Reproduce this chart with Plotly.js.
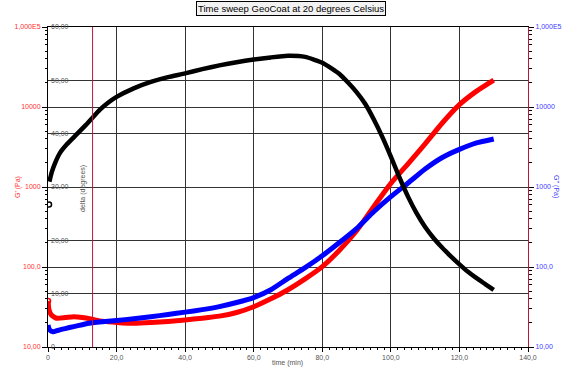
<!DOCTYPE html>
<html>
<head>
<meta charset="utf-8">
<script src="https://cdn.plot.ly/plotly-3.0.1.min.js"></script>
<style>html,body{margin:0;padding:0;background:#fff;}#chart{width:576px;height:374px;}</style>
</head>
<body>
<div id="chart"></div>
<script>
// ---- data ----
const chartTitle = "Time sweep GeoCoat at 20 degrees Celsius";

// G' (Pa) storage modulus, red, left log axis
const gpTime = [0, 0.3, 1, 2.5, 5, 7.5, 10, 12.5, 15, 17.5, 20, 25, 30, 35, 40, 45, 50, 55, 60, 65, 70, 75, 80, 85, 90, 95, 100, 105, 110, 115, 120, 125, 130];
const gpVals = [37.6, 29, 25.1, 22.9, 23.3, 23.9, 23.4, 22.4, 21.2, 20.7, 20.3, 19.8, 20.2, 20.9, 21.8, 22.9, 24.3, 27.0, 31.9, 40.0, 52, 71, 101, 162, 284, 568, 1110, 1950, 3470, 6310, 10700, 15800, 21700];

// G'' (Pa) loss modulus, blue, right log axis
const gppTime = [0, 0.5, 1.5, 3, 5, 7.5, 10, 12.5, 15, 20, 25, 30, 35, 40, 45, 50, 55, 60, 65, 70, 75, 80, 85, 90, 95, 100, 105, 110, 115, 120, 125, 130];
const gppVals = [18.8, 16.3, 15.5, 16.2, 17.0, 18.0, 19.0, 19.9, 20.5, 21.4, 22.6, 23.9, 25.5, 27.3, 29.3, 32.0, 36.0, 41.5, 52, 72, 98, 138, 202, 302, 490, 757, 1120, 1680, 2340, 2950, 3550, 3980];

// delta (degrees), black, linear axis
const deltaTime = [0.4, 1.1, 2, 3.5, 5.5, 8.4, 11, 13, 15, 17.5, 20, 25, 30, 35, 40, 45, 50, 55, 60, 65, 70, 75, 80, 85, 87.5, 90, 92.5, 95, 97.5, 100, 102.5, 105, 107.5, 110, 112.5, 115, 117.5, 120, 122.5, 125, 127.5, 130];
const deltaVals = [31.0, 32.8, 34.4, 36.4, 38.0, 39.9, 41.6, 43.0, 44.4, 45.8, 46.9, 48.5, 49.7, 50.6, 51.3, 52.1, 52.8, 53.4, 53.9, 54.3, 54.6, 54.4, 53.3, 51.2, 49.6, 47.8, 45.6, 42.7, 39.4, 35.7, 31.8, 28.2, 25.1, 22.5, 20.4, 18.6, 17.0, 15.5, 14.1, 12.9, 11.8, 10.7];
const deltaStrayTime = [0.3];
const deltaStrayVals = [26.7];

// vertical marker line (time, min)
const markerTime = 13;

// tick labels
const xTickVals = [0, 20, 40, 60, 80, 100, 120, 140];
const xTickText = ["0", "20,0", "40,0", "60,0", "80,0", "100,0", "120,0", "140,0"];
const logTickVals = [10, 100, 1000, 10000, 100000];
const logTickText = ["10,00", "100,0", "1000", "10000", "1,000E5"];
const deltaTickVals = [0, 10, 20, 30, 40, 50, 60];
const deltaTickText = ["0", "10,00", "20,00", "30,00", "40,00", "50,00", "60,00"];

// ---- styling ----
const FONT = "Liberation Sans, Arial, sans-serif";
const RED = "#ff0000", BLUE = "#0000ff", BLACK = "#000000";
const GRID = "#333333", LABEL_GRAY = "#555555", CRIMSON = "#c0143c";

const logMinor = [];
for (let d = 10; d < 100000; d *= 10) for (let k = 2; k <= 9; k++) logMinor.push(d * k);

function seriesTrace(x, y, color, axis, w) {
  return {
    x: x, y: y, yaxis: axis, type: "scatter", mode: "lines",
    line: {color: color, width: w, shape: "spline", smoothing: 0.5},
    hoverinfo: "skip", showlegend: false
  };
}

const traces = [
  seriesTrace(gpTime, gpVals, RED, "y", 5),
  seriesTrace(gppTime, gppVals, BLUE, "y2", 5),
  seriesTrace(deltaTime, deltaVals, BLACK, "y3", 4.5),
  {x: [gpTime[0]], y: [gpVals[0]], yaxis: "y", type: "scatter", mode: "markers",
   marker: {symbol: "circle-open", size: 5, color: RED, line: {width: 1.5, color: RED}},
   hoverinfo: "skip", showlegend: false},
  {x: deltaStrayTime, y: deltaStrayVals, yaxis: "y3", type: "scatter", mode: "markers",
   marker: {symbol: "circle-open", size: 5, color: BLACK, line: {width: 1.5, color: BLACK}},
   hoverinfo: "skip", showlegend: false}
];

const tickFont = (c) => ({family: FONT, size: 7, color: c});

const layout = {
  width: 576, height: 374,
  margin: {l: 48, r: 48, t: 27, b: 27, pad: 0},
  paper_bgcolor: "#ffffff", plot_bgcolor: "#ffffff",
  showlegend: false,
  font: {family: FONT, size: 7, color: LABEL_GRAY},
  xaxis: {
    range: [0, 140], tickmode: "array", tickvals: xTickVals, ticktext: xTickText,
    showgrid: true, gridcolor: GRID, gridwidth: 1, zeroline: false,
    showline: true, linecolor: BLACK, linewidth: 1, mirror: true,
    ticks: "outside", ticklen: 4, tickcolor: BLACK, tickwidth: 1,
    minor: {tickmode: "linear", tick0: 0, dtick: 2, ticks: "outside", ticklen: 2, tickcolor: BLACK, showgrid: false},
    tickfont: tickFont(LABEL_GRAY), ticklabeloverflow: "allow"
  },
  yaxis: {
    type: "log", range: [1, 5], tickmode: "array", tickvals: logTickVals, ticktext: logTickText,
    showgrid: true, gridcolor: GRID, gridwidth: 1, zeroline: false,
    showline: true, linecolor: BLACK, linewidth: 1,
    ticks: "outside", ticklen: 5, tickcolor: BLACK,
    minor: {tickmode: "array", tickvals: logMinor, ticks: "outside", ticklen: 2.5, tickcolor: BLACK, showgrid: false},
    tickfont: tickFont("#ff3030"), ticklabeloverflow: "allow"
  },
  yaxis2: {
    type: "log", range: [1, 5], overlaying: "y", side: "right", anchor: "x",
    tickmode: "array", tickvals: logTickVals, ticktext: logTickText,
    showgrid: false, zeroline: false,
    showline: true, linecolor: CRIMSON, linewidth: 1,
    ticks: "outside", ticklen: 5, tickcolor: BLACK,
    minor: {tickmode: "array", tickvals: logMinor, ticks: "outside", ticklen: 2.5, tickcolor: BLACK, showgrid: false},
    tickfont: tickFont("#4040ff"), ticklabeloverflow: "allow"
  },
  yaxis3: {
    range: [0, 60], overlaying: "y", side: "left", anchor: "x",
    tickmode: "array", tickvals: deltaTickVals, ticktext: deltaTickText,
    ticklabelposition: "inside", ticklabeloverflow: "allow", ticks: "",
    showgrid: true, gridcolor: GRID, gridwidth: 1, zeroline: false, showline: false,
    tickfont: tickFont(LABEL_GRAY)
  },
  shapes: [
    {type: "line", xref: "x", yref: "paper", x0: markerTime, x1: markerTime, y0: 0, y1: 1,
     line: {color: CRIMSON, width: 1}}
  ],
  annotations: [
    {text: chartTitle, xref: "paper", yref: "paper", x: 0.506, y: 1.058, xanchor: "center", yanchor: "middle",
     showarrow: false, font: {family: FONT, size: 9.5, color: BLACK},
     bgcolor: "#f2f2f2", bordercolor: BLACK, borderwidth: 1, borderpad: 1},
    {text: "G' (Pa)", xref: "paper", yref: "paper", x: -0.075, y: 0.5, textangle: -90,
     showarrow: false, font: {family: FONT, size: 7, color: "#ff3030"}},
    {text: "delta (degrees)", xref: "paper", yref: "paper", x: 0.0604, y: 0.497, textangle: -90,
     showarrow: false, font: {family: FONT, size: 7, color: LABEL_GRAY}},
    {text: "G'' (Pa)", xref: "paper", yref: "paper", x: 1.0708, y: 0.5, textangle: 90,
     showarrow: false, font: {family: FONT, size: 7, color: "#4040ff"}},
    {text: "time (min)", xref: "paper", yref: "paper", x: 0.498, y: -0.05, yanchor: "middle",
     showarrow: false, font: {family: FONT, size: 7, color: LABEL_GRAY}}
  ]
};

Plotly.newPlot("chart", traces, layout, {staticPlot: true, displayModeBar: false});
</script>
</body>
</html>
